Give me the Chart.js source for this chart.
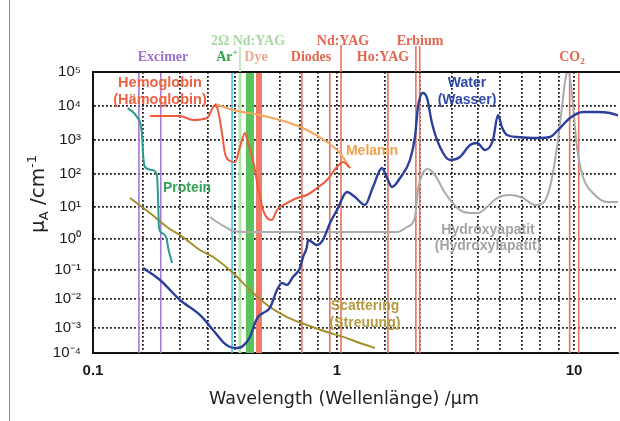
<!DOCTYPE html>
<html>
<head>
<meta charset="utf-8">
<script src="https://cdn.jsdelivr.net/npm/chart.js@4.4.1/dist/chart.umd.min.js"></script>
<style>
html,body{margin:0;padding:0;background:#ffffff;}
canvas{display:block;}
</style>
</head>
<body>
<canvas id="chart" width="620" height="421"></canvas>
<script>
// ================= DATA =================
const xTickValues = [0.1,0.2,0.3,0.4,0.5,0.6,0.7,0.8,0.9,1,2,3,4,5,6,7,8,9,10];
const xTickLabels = ['0.1','','','','','','','','','1','','','','','','','','','10'];
const yTickValues = [1e-4,1e-3,1e-2,1e-1,1e0,1e1,1e2,1e3,1e4,1e5];
const yTickLabels = ['10⁻⁴','10⁻³','10⁻²','10⁻¹','10⁰','10¹','10²','10³','10⁴','10⁵'];
const xMin = 0.1, xMax = 18.9, yMin = 1e-4, yMax = 1e5;

// Water (Wasser)
const waterWl = [0.2,0.241,0.3,0.368,0.417,0.453,0.48,0.508,0.534,0.566,0.59,0.604,0.625,0.654,0.686,0.709,0.733,0.763,0.8,0.816,0.837,0.843,0.894,0.925,0.962,1.0,1.155,1.297,1.498,1.682,1.915,2.047,2.169,2.38,2.67,2.83,2.93,3.08,3.195,3.34,3.59,3.93,4.28,4.67,4.96,5.30,5.66,5.90,6.08,6.30,6.76,7.82,8.51,9.06,9.72,11.39,13.94,16.8,19.4];
const waterMu = [0.116,0.0452,0.00925,0.00281,8.3e-4,2.75e-4,1.74e-4,1.58e-4,1.9e-4,4.4e-4,1.49e-3,2.39e-3,3.29e-3,4.9e-3,0.0204,0.0356,0.0304,0.0574,0.116,0.262,0.552,0.93,0.64,0.93,3.16,8.05,28.5,20.1,11.5,40.4,150,75.6,40.4,75.6,258,1225,9340,24100,17200,3160,622,258,316,713,816,508,1000,5430,2410,1400,1225,1145,1225,2250,4440,6660,6660,6220,5080];

// Hydroxyapatite
const hydroxyWl = [0.407,0.431,0.468,0.492,0.566,0.962,2.30,2.58,2.83,2.93,3.08,3.22,3.43,3.76,4.28,4.67,5.0,5.39,5.85,6.44,7.05,7.71,8.15,8.51,8.89,9.19,9.45,9.59,9.79,10.44,11.39,13.16,16.1,19.4];
const hydroxyMu = [4.87,3.40,2.21,1.78,1.65,1.65,1.65,2.37,4.87,32.7,107,140,93,26.6,8.05,6.49,6.49,10,18.7,23.1,18.7,11.5,13.2,40.4,622,9340,76000,100000,41500,622,81,26.6,14.2,14.2];

// Hemoglobin (Hämoglobin)
const hbWl = [0.216,0.3,0.343,0.396,0.424,0.434,0.449,0.46,0.48,0.5,0.521,0.543,0.557,0.58,0.604,0.625,0.642,0.663,0.686,0.733,0.784,0.837,0.894,0.946,1.0,1.09,1.207];
const hbMu = [5080,5080,3870,4440,10700,7630,1610,415,241,225,622,1610,816,258,40.4,8.05,4.53,3.92,8.05,13.2,18.7,23.1,37.6,65.8,161,225,150];

// Melanin
const melWl = [0.424,0.492,0.612,0.733,0.837,0.946,1.044,1.207];
const melMu = [11500,7630,5430,3380,1970,873,415,150];

// Protein
const protWl = [0.162,0.184,0.197,0.2,0.204,0.221,0.233,0.236,0.238,0.246,0.260,0.263,0.275];
const protMu = [8730,4750,1610,415,161,131,93,16.3,2.37,1.54,0.93,0.552,0.168];

// Scattering (Streuung)
const scatWl = [0.167,0.216,0.260,0.309,0.368,0.417,0.492,0.566,0.642,0.733,0.837,0.946,1.09,1.394,1.731];
const scatMu = [18.7,6.49,2.37,1.15,0.442,0.262,0.0788,0.0204,6.2e-3,2.39e-3,1.27e-3,6.9e-4,4.4e-4,2.5e-4,1.58e-4];

// Laser wavelengths (µm)
const excimerWl = [0.189,0.243];
const argonWl = [0.488];
const ndyag2Wl = [0.521];
const greenBandWl = [0.566];
const dyeWl = [0.608];
const diodeWl = [0.81,0.961];
const ndyagWl = [1.06];
const hoyagWl = [2.07];
const erbiumWl = [2.86,2.99];
const co2Wl = [9.7,10.7];

// ================= AXIS CALIBRATION (layout of the original, non-uniform log grid) =================
const xCalibValues = [0.1,0.2,0.3,0.4,0.5,0.6,0.7,0.8,0.9,1,2,3,4,5,6,7,8,9,10,20];
const xCalibOffsets = [0,50,87,115,142,164,187,207,225,244,292,327,359,385,407,429,447,466,481,529];
const xCalibSpan = 525;
const yCalibValues = yTickValues;
const yCalibOffsets = [0,25,54,83,114,146,179,213,247,281];
const yCalibSpan = 281;

function makeWarp(values, offsets, span) {
  const lv = values.map(v => Math.log10(v));
  const fr = offsets.map(o => o / span);
  return {
    toFrac(v) {
      const l = Math.log10(v); let i = 0;
      while (i < lv.length - 2 && l > lv[i+1]) i++;
      return fr[i] + (l - lv[i]) * (fr[i+1] - fr[i]) / (lv[i+1] - lv[i]);
    },
    toValue(f) {
      let i = 0;
      while (i < fr.length - 2 && f > fr[i+1]) i++;
      return Math.pow(10, lv[i] + (f - fr[i]) * (lv[i+1] - lv[i]) / (fr[i+1] - fr[i]));
    }
  };
}
const warps = {
  x: makeWarp(xCalibValues, xCalibOffsets, xCalibSpan),
  y: makeWarp(yCalibValues, yCalibOffsets, yCalibSpan)
};

class WarpedLogScale extends Chart.LogarithmicScale {
  getPixelForValue(value) {
    if (value === null || value === undefined || !(value > 0)) value = this.min;
    return this.getPixelForDecimal(warps[this.id].toFrac(value));
  }
  getValueForPixel(pixel) {
    return warps[this.id].toValue(this.getDecimalForPixel(pixel));
  }
}
WarpedLogScale.id = 'warpedLog';
WarpedLogScale.defaults = {};
Chart.register(WarpedLogScale);

// ================= DATASETS =================
const pts = (wl, mu) => wl.map((x, i) => ({x: x, y: mu[i]}));
const vline = x => [{x: x, y: yMin}, {x: x, y: yMax}];

function curve(label, wl, mu, color, width) {
  return {label, data: pts(wl, mu), borderColor: color, borderWidth: width,
    cubicInterpolationMode: 'monotone', pointRadius: 0, fill: false, order: 1};
}
function lasers(label, wls, color, width) {
  return wls.map(w => ({label, data: vline(w), borderColor: color, borderWidth: width,
    pointRadius: 0, fill: false, order: 5, tension: 0}));
}

const datasets = [
  curve('Water', waterWl, waterMu, '#2b3f9b', 2.4),
  curve('Hemoglobin', hbWl, hbMu, '#ef5b3f', 2),
  curve('Melanin', melWl, melMu, '#f5a65a', 2),
  curve('Protein', protWl, protMu, '#2b9b8d', 2),
  curve('Scattering', scatWl, scatMu, '#a08f2c', 2),
  curve('Hydroxyapatit', hydroxyWl, hydroxyMu, '#ababab', 2),
  ...lasers('Excimer', excimerWl, '#a57ad8', 1.6),
  ...lasers('Ar+', argonWl, '#45c3dc', 1.6),
  ...lasers('2Ω Nd:YAG', ndyag2Wl, '#b6e3b0', 3),
  ...lasers('Ar band', greenBandWl, '#5cc25c', 8),
  ...lasers('Dye', dyeWl, '#ef7a66', 6),
  ...lasers('Diodes', diodeWl, '#e8735f', 1.6),
  ...lasers('Nd:YAG', ndyagWl, '#e8735f', 1.6),
  ...lasers('Ho:YAG', hoyagWl, '#e8735f', 1.6),
  ...lasers('Erbium', erbiumWl, '#e8735f', 1.6),
  ...lasers('CO2', co2Wl, '#e8735f', 1.6)
];

// ================= LABELS (layout) =================
const FS = '"Liberation Serif", "Times New Roman", serif';
const FA = '"Liberation Sans", Arial, sans-serif';
const FD = '"DejaVu Sans", Verdana, sans-serif';
const RED = '#e4664f';
const texts = [
  {p:['Excimer'], x:163, y:60.5, s:14, f:FS, w:'bold', c:'#9b6fcf'},
  {p:['2Ω Nd:YAG'], x:248, y:44.5, s:14, f:FS, w:'bold', c:'#a9d9a2'},
  {p:['Ar', {t:'+', sup:true}], x:227, y:60.5, s:14, f:FS, w:'bold', c:'#2fa24a'},
  {p:['Dye'], x:256, y:60.5, s:14, f:FS, w:'bold', c:'#f2a58e'},
  {p:['Diodes'], x:311, y:60.5, s:14, f:FS, w:'bold', c:RED},
  {p:['Nd:YAG'], x:343, y:44.5, s:14, f:FS, w:'bold', c:RED},
  {p:['Ho:YAG'], x:383, y:60.5, s:14, f:FS, w:'bold', c:RED},
  {p:['Erbium'], x:420, y:44.5, s:14, f:FS, w:'bold', c:RED},
  {p:['CO', {t:'2', sub:true}], x:572, y:60.5, s:14, f:FS, w:'bold', c:RED},
  {p:['Hemoglobin'], x:160, y:87, s:14.5, f:FA, w:'bold', c:'#ee6244'},
  {p:['(Hämoglobin)'], x:160, y:104, s:14.5, f:FA, w:'bold', c:'#ee6244'},
  {p:['Protein'], x:187, y:192, s:14, f:FA, w:'bold', c:'#37a057'},
  {p:['Melanin'], x:372, y:155, s:14, f:FA, w:'bold', c:'#f2a250'},
  {p:['Water'], x:467, y:87, s:14, f:FA, w:'bold', c:'#2f4aa5'},
  {p:['(Wasser)'], x:467, y:104, s:14, f:FA, w:'bold', c:'#2f4aa5'},
  {p:['Hydroxyapatit'], x:488, y:234, s:14, f:FA, w:'bold', c:'#a3a3a3'},
  {p:['(Hydroxylapatit)'], x:488, y:250, s:14, f:FA, w:'bold', c:'#a3a3a3'},
  {p:['Scattering'], x:365, y:310, s:14, f:FA, w:'bold', c:'#b39a3e'},
  {p:['(Streuung)'], x:365, y:327, s:14, f:FA, w:'bold', c:'#b39a3e'},
  {p:['Wavelength (Wellenlänge) /µm'], x:344, y:404, s:17.5, f:FD, w:'normal', c:'#222222'}
];
const yTitle = {p:['μ', {t:'A', sub:true}, ' /cm', {t:'-1', sup:true}], x:43.5, y:194, s:20, f:FD, w:'normal', c:'#222222'};
const pointerLines = [
  {wl: ndyag2Wl[0], top: 47, color: '#b6e3b0', width: 1.6},
  {wl: ndyagWl[0], top: 45, color: '#e8735f', width: 1.6},
  {wl: erbiumWl[0], top: 46, color: '#e8735f', width: 1.6},
  {wl: erbiumWl[1], top: 46, color: '#e8735f', width: 1.6}
];

function drawRich(ctx, item) {
  const segs = item.p.map(p => {
    const o = typeof p === 'string' ? {t: p} : p;
    const size = (o.sup || o.sub) ? item.s * 0.65 : item.s;
    const font = item.w + ' ' + size + 'px ' + item.f;
    ctx.font = font;
    return {t: o.t, font, w: ctx.measureText(o.t).width,
      dy: o.sup ? -item.s * 0.38 : (o.sub ? item.s * 0.24 : 0)};
  });
  const total = segs.reduce((a, s) => a + s.w, 0);
  let cx = item.x - total / 2;
  ctx.fillStyle = item.c; ctx.textAlign = 'left'; ctx.textBaseline = 'alphabetic';
  segs.forEach(s => { ctx.font = s.font; ctx.fillText(s.t, cx, item.y + s.dy); cx += s.w; });
}

const extras = {
  id: 'extras',
  afterDraw(chart) {
    const ctx = chart.ctx, a = chart.chartArea, xs = chart.scales.x;
    ctx.save();
    ctx.strokeStyle = '#111'; ctx.lineWidth = 2;
    ctx.beginPath(); ctx.moveTo(a.left - 1, a.top); ctx.lineTo(chart.width, a.top); ctx.stroke();
    ctx.strokeStyle = '#8a8a8a'; ctx.lineWidth = 1;
    ctx.beginPath(); ctx.moveTo(9.5, 0); ctx.lineTo(9.5, chart.height); ctx.stroke();
    pointerLines.forEach(p => {
      const px = xs.getPixelForValue(p.wl);
      ctx.strokeStyle = p.color; ctx.lineWidth = p.width;
      ctx.beginPath(); ctx.moveTo(px, p.top); ctx.lineTo(px, a.top); ctx.stroke();
    });
    texts.forEach(t => drawRich(ctx, t));
    ctx.save();
    ctx.translate(yTitle.x, yTitle.y); ctx.rotate(-Math.PI / 2);
    drawRich(ctx, Object.assign({}, yTitle, {x: 0, y: 0}));
    ctx.restore();
    ctx.restore();
  }
};

new Chart(document.getElementById('chart'), {
  type: 'line',
  data: {datasets},
  plugins: [extras],
  options: {
    responsive: false, animation: false, devicePixelRatio: 1, events: [],
    layout: {padding: {top: 72, right: 2, left: 0, bottom: 0}},
    plugins: {legend: {display: false}, tooltip: {enabled: false}, title: {display: false}},
    elements: {point: {radius: 0}, line: {capBezierPoints: true}},
    scales: {
      x: {
        type: 'warpedLog', min: xMin, max: xMax,
        afterBuildTicks: s => { s.ticks = xTickValues.map(v => ({value: v})); },
        afterFit: s => { s.height = 68; },
        grid: {color: c => c.index === 0 ? 'rgba(0,0,0,0)' : '#151515', lineWidth: 1.8, drawTicks: false},
        border: {display: true, color: '#111', width: 2, dash: [1.8, 2.2]},
        ticks: {autoSkip: false, maxRotation: 0, minRotation: 0, padding: 9, color: '#1a1a1a',
          font: {family: FA, size: 15, weight: 'bold'}, callback: (v, i) => xTickLabels[i]}
      },
      y: {
        type: 'warpedLog', min: yMin, max: yMax,
        afterBuildTicks: s => { s.ticks = yTickValues.map(v => ({value: v})); },
        afterFit: s => { s.width = 93; },
        grid: {color: c => (c.index === 0 || c.index === yTickValues.length - 1) ? 'rgba(0,0,0,0)' : '#151515', lineWidth: 1.8, drawTicks: false},
        border: {display: true, color: '#111', width: 2, dash: [1.8, 2.2]},
        ticks: {autoSkip: false, padding: 12, color: '#1a1a1a',
          font: {family: FA, size: 15}, callback: (v, i) => yTickLabels[i]}
      }
    }
  }
});
</script>
</body>
</html>
